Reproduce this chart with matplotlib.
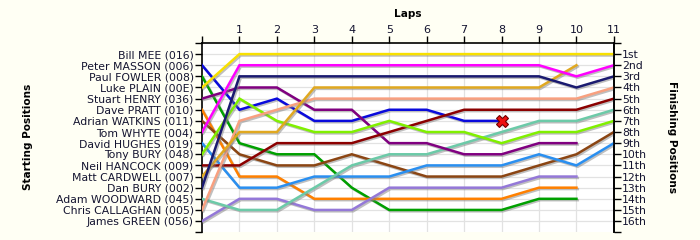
import numpy as np
import matplotlib
matplotlib.use("Agg")
import matplotlib.pyplot as plt
import matplotlib.patheffects as pe

# Drivers listed by grid slot (1 = pole)
drivers = [
    "Bill MEE (016)", "Peter MASSON (006)", "Paul FOWLER (008)", "Luke PLAIN (00E)",
    "Stuart HENRY (036)", "Dave PRATT (010)", "Adrian WATKINS (011)", "Tom WHYTE (004)",
    "David HUGHES (019)", "Tony BURY (048)", "Neil HANCOCK (009)", "Matt CARDWELL (007)",
    "Dan BURY (002)", "Adam WOODWARD (045)", "Chris CALLAGHAN (005)", "James GREEN (056)",
]
finish_labels = ["1st", "2nd", "3rd", "4th", "5th", "6th", "7th", "8th",
                 "9th", "10th", "11th", "12th", "13th", "14th", "15th", "16th"]
laps = list(range(0, 12))

# Position of each driver at the end of each lap (lap 0 = grid)
pos_masson = [2, 6, 5, 7, 7, 6, 6, 7, 7]
pos_fowler = [3, 9, 10, 10, 13, 15, 15, 15, 15, 14, 14]
pos_plain = [4, 1, 1, 1, 1, 1, 1, 1, 1, 1, 1, 1]
pos_henry = [5, 4, 4, 6, 6, 9, 9, 10, 10, 9, 9]
pos_pratt = [6, 12, 12, 14, 14, 14, 14, 14, 14, 13, 13]
pos_watkins = [7, 10, 11, 11, 10, 11, 12, 12, 12, 11, 10, 8]
pos_whyte = [8, 2, 2, 2, 2, 2, 2, 2, 2, 2, 3, 2]
pos_hughes = [9, 13, 13, 12, 12, 12, 11, 11, 11, 10, 11, 9]
pos_tbury = [10, 5, 7, 8, 8, 7, 8, 8, 9, 8, 8, 7]
pos_hancock = [11, 11, 9, 9, 9, 8, 7, 6, 6, 6, 6, 5]
pos_cardwell = [12, 8, 8, 4, 4, 4, 4, 4, 4, 4, 2]
pos_dbury = [13, 3, 3, 3, 3, 3, 3, 3, 3, 3, 4, 3]
pos_woodward = [14, 15, 15, 13, 11, 10, 10, 9, 8, 7, 7, 6]
pos_callaghan = [15, 7, 6, 5, 5, 5, 5, 5, 5, 5, 5, 4]
pos_green = [16, 14, 14, 15, 15, 13, 13, 13, 13, 12, 12]

series = [
    (pos_masson, "#0a0adc"),
    (pos_fowler, "#00a000"),
    (pos_pratt, "#ff8000"),
    (pos_watkins, "#8b4513"),
    (pos_hughes, "#2a8ff0"),
    (pos_green, "#9478d8"),
    (pos_woodward, "#6ccaa8"),
    (pos_henry, "#800080"),
    (pos_hancock, "#8b0000"),
    (pos_tbury, "#80f000"),
    (pos_callaghan, "#f8a080"),
    (pos_cardwell, "#e0a820"),
    (pos_dbury, "#1a1a70"),
    (pos_whyte, "#ff00ff"),
    (pos_plain, "#f8e000"),
]
retired = [(pos_masson, "#0a0adc")]

bg = "#fffff4"
txt = "#141430"

fig = plt.figure(figsize=(7, 2.4), dpi=100, facecolor=bg)
ax = fig.add_axes([0.2886, 0.0325, 0.877 - 0.2886, 0.821 - 0.0325])
ax.set_facecolor("white")

ax.set_xlim(0, 11)
ax.set_ylim(17, 0)

# grid
for y in range(1, 17):
    ax.axhline(y, color="#e2e2e2", lw=0.9, zorder=0)
for x in range(1, 11):
    ax.axvline(x, color="#e2e2e2", lw=0.9, zorder=0)

shadow = [pe.SimpleLineShadow(offset=(1.0, -1.0), shadow_color="#808080", alpha=0.5),
          pe.Normal()]
for vals, col in series:
    ax.plot(laps[:len(vals)], vals, color=col, lw=1.8, solid_joinstyle="miter",
            path_effects=shadow, zorder=3)

for vals, col in retired:
    ax.plot(laps[len(vals) - 1], vals[-1], marker="X", ms=8, color="#ee1010",
            mec="#700000", mew=0.8, zorder=5)

# axes
ax.spines["bottom"].set_visible(False)
for s in ("left", "right", "top"):
    ax.spines[s].set_color("black")
    ax.spines[s].set_linewidth(1.2)

ax.xaxis.tick_top()
ax.set_xticks(range(0, 12))
ax.set_xticklabels([""] + [str(i) for i in range(1, 12)])
ax.tick_params(axis="x", length=5, width=1, colors="black", labelcolor=txt,
               labelsize=8, pad=1, bottom=False)

ax.set_yticks(range(0, 18))
ax.set_yticklabels([""] + drivers + [""])
ax.tick_params(axis="y", length=5, width=1, colors="black", labelcolor=txt,
               labelsize=7.8, pad=1)

ax2 = ax.twinx()
ax2.set_ylim(17, 0)
ax2.set_yticks(range(0, 18))
ax2.set_yticklabels([""] + finish_labels + [""])
ax2.tick_params(axis="y", length=5, width=1, colors="black", labelcolor=txt,
                labelsize=7.8, pad=1)
for s in ("bottom", "left", "top"):
    ax2.spines[s].set_visible(False)
ax2.spines["right"].set_linewidth(1.2)

fig.text(0.583, 0.94, "Laps", ha="center", va="center", fontsize=7.6,
         fontweight="bold", color="black")
fig.text(0.04, 0.43, "Starting Positions", ha="center", va="center", rotation=90,
         fontsize=7.6, fontweight="bold", color="black")
fig.text(0.96, 0.43, "Finishing Positions", ha="center", va="center", rotation=-90,
         fontsize=7.6, fontweight="bold", color="black")

fig.savefig("out.png", dpi=100, facecolor=bg)
